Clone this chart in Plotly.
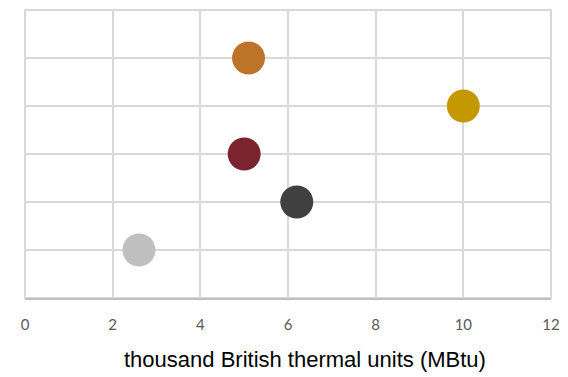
import plotly.graph_objects as go

# values (x in MBtu, y = row position)
energy_mbtu = [2.6, 6.2, 5.0, 10.0, 5.1]
row_pos = [1, 2, 3, 4, 5]
dot_colors = ["#bfbfbf", "#404040", "#7b2430", "#c49800", "#be7428"]

x_ticks = [0, 2, 4, 6, 8, 10, 12]
y_ticks = [0, 1, 2, 3, 4, 5, 6]
x_title = "thousand British thermal units (MBtu)"

GRID = "#d9d9d9"

fig = go.Figure(
    go.Scatter(
        x=energy_mbtu,
        y=row_pos,
        mode="markers",
        marker=dict(color=dot_colors, size=33, line=dict(width=0)),
        hoverinfo="x",
        showlegend=False,
    )
)

# page body adds an 8px offset, margins compensate for it
fig.update_layout(
    width=568,
    height=377,
    margin=dict(l=17, r=25, t=2, b=87),
    paper_bgcolor="white",
    plot_bgcolor="white",
)
fig.update_xaxes(
    range=[0, 12],
    tickvals=x_ticks,
    automargin=False,
    showgrid=True,
    gridcolor=GRID,
    gridwidth=2,
    zeroline=False,
    showline=True,
    linecolor="#bfbfbf",
    linewidth=2,
    ticks="",
    ticklabelstandoff=12,
    tickfont=dict(family="Lato, Calibri, sans-serif", size=15, color="#595959"),
)
fig.update_yaxes(
    range=[0, 6],
    tickvals=y_ticks,
    automargin=False,
    showticklabels=False,
    showgrid=True,
    gridcolor=GRID,
    gridwidth=2,
    zeroline=False,
    showline=False,
)
fig.add_annotation(
    text=x_title,
    xref="paper", yref="paper",
    x=0.533, y=-0.215,
    xanchor="center", yanchor="middle",
    showarrow=False,
    font=dict(family="Liberation Sans, Arial, sans-serif", size=22, color="#000000"),
)
# light frame on top and right to match the gridline border
fig.add_shape(
    type="rect", xref="paper", yref="paper", x0=0, x1=1, y0=0, y1=1,
    line=dict(color=GRID, width=2), layer="below",
)

fig.write_html("out.html")
